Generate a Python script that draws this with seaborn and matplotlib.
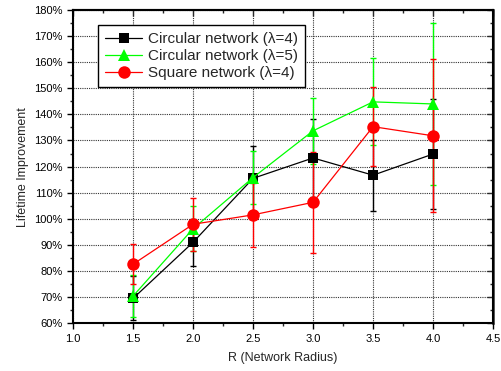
import matplotlib
matplotlib.use("Agg")
import matplotlib.pyplot as plt
import seaborn as sns
import pandas as pd
import numpy as np
from matplotlib.ticker import MultipleLocator, FuncFormatter
from matplotlib.lines import Line2D

radius = [1.5, 2.0, 2.5, 3.0, 3.5, 4.0]
series_names = ["Circular network (λ=4)", "Circular network (λ=5)", "Square network (λ=4)"]
circ4 = [69.5, 91.0, 115.5, 123.3, 116.7, 124.8]
circ4_err = [8.4, 9.0, 12.5, 15.0, 13.6, 21.0]
circ5 = [70.4, 96.2, 115.8, 133.7, 144.8, 144.0]
circ5_err = [8.0, 8.7, 10.0, 12.7, 16.7, 31.0]
square4 = [82.6, 97.9, 101.5, 106.3, 135.3, 131.8]
square4_err = [7.7, 10.2, 12.2, 19.3, 15.2, 29.3]

colors = ["#000000", "#00ff00", "#ff0000"]
markers = ["s", "^", "o"]
msizes = [7.5, 9, 9]

df = pd.DataFrame({
    "R": radius * 3,
    "val": circ4 + circ5 + square4,
    "err": circ4_err + circ5_err + square4_err,
    "series": sum([[n] * len(radius) for n in series_names], []),
})

sns.set_theme(style="ticks")
plt.rcParams["font.family"] = ["Liberation Sans", "DejaVu Sans"]

fig = plt.figure(figsize=(5.01, 3.71), dpi=100)
ax = fig.add_axes([0.146, 0.129, 0.838, 0.844])

for name, col in zip(series_names, colors):
    sub = df[df["series"] == name]
    ax.errorbar(sub["R"], sub["val"], yerr=sub["err"], fmt="none",
                ecolor=col, elinewidth=1.0, capsize=2.5, capthick=1.0, zorder=2)

sns.lineplot(data=df, x="R", y="val", hue="series", style="series",
             palette=dict(zip(series_names, colors)),
             markers=dict(zip(series_names, markers)),
             dashes=False, linewidth=0.9, ax=ax, zorder=3,
             markeredgewidth=0, legend=False)
for line, ms in zip(ax.lines[-3:], msizes):
    line.set_markersize(ms)

ax.set_xlim(1.0, 4.5)
ax.set_ylim(60, 180)
ax.xaxis.set_major_locator(MultipleLocator(0.5))
ax.xaxis.set_minor_locator(MultipleLocator(0.25))
ax.yaxis.set_major_locator(MultipleLocator(10))
ax.yaxis.set_minor_locator(MultipleLocator(5))
ax.yaxis.set_major_formatter(FuncFormatter(lambda v, p: f"{int(round(v))}%"))
ax.xaxis.set_major_formatter(FuncFormatter(lambda v, p: f"{v:.1f}"))

ax.grid(True, which="major", linestyle=(0, (1, 1)), color="#333333", linewidth=0.8)
ax.set_axisbelow(True)

ax.tick_params(axis="both", which="major", labelsize=8, length=4, width=1,
               direction="out", colors="black", top=False, right=False)
ax.tick_params(axis="both", which="minor", length=2.5, width=1, direction="out")

for sp in ax.spines.values():
    sp.set_linewidth(1.5)
    sp.set_color("black")
ax_top = ax.secondary_xaxis("top")
ax_top.xaxis.set_major_locator(MultipleLocator(0.5))
ax_top.xaxis.set_minor_locator(MultipleLocator(0.25))
ax_top.tick_params(which="major", direction="in", length=4, width=1, labeltop=False)
ax_top.tick_params(which="minor", direction="in", length=2.5, width=1)
ax_top.spines["top"].set_linewidth(1.5)
ax_right = ax.secondary_yaxis("right")
ax_right.yaxis.set_major_locator(MultipleLocator(10))
ax_right.yaxis.set_minor_locator(MultipleLocator(5))
ax_right.tick_params(which="major", direction="in", length=4, width=1, labelright=False)
ax_right.tick_params(which="minor", direction="in", length=2.5, width=1)
ax_right.spines["right"].set_linewidth(1.8)

ax.set_xlabel("R (Network Radius)", fontsize=9, labelpad=6)
ax.set_ylabel("Lifetime Improvement", fontsize=9, labelpad=4)

handles = [Line2D([], [], color=c, marker=m, markersize=s, linewidth=0.9, markeredgewidth=0)
           for c, m, s in zip(colors, markers, msizes)]
leg = ax.legend(handles, series_names, loc="upper left", bbox_to_anchor=(0.06, 0.952),
                fontsize=11, frameon=True, fancybox=False, borderpad=0.45,
                handlelength=2.4, handletextpad=0.4, labelspacing=0.2,
                borderaxespad=0)
leg.get_frame().set_edgecolor("black")
leg.get_frame().set_linewidth(1.0)
leg.get_frame().set_alpha(1.0)

fig.savefig("out.png", dpi=100)
